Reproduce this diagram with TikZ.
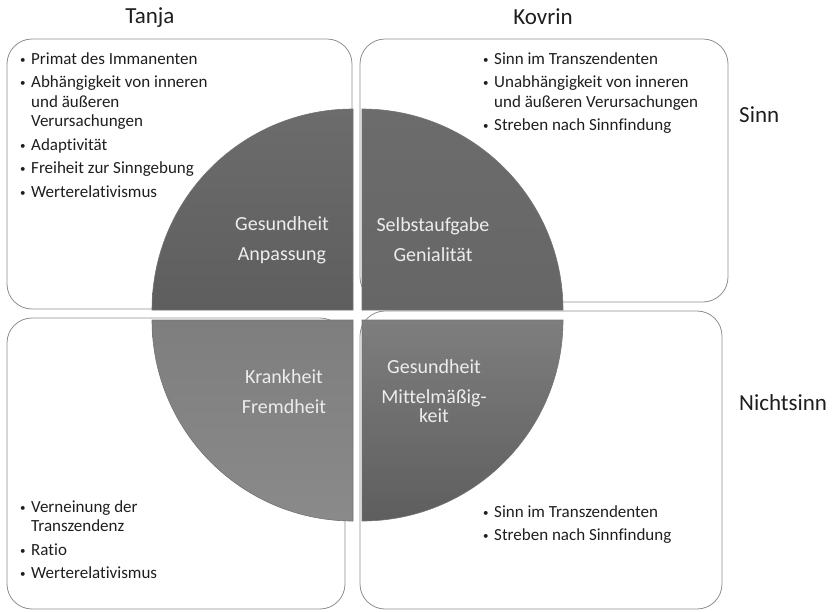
\documentclass[tikz,border=0pt]{standalone}
\usepackage{fontspec}
\setmainfont{Carlito}[Ligatures=NoCommon]
\usetikzlibrary{positioning}
\definecolor{ink}{HTML}{1E1E1E}
\definecolor{frame1}{HTML}{8E8E8E}
\definecolor{pietxt}{HTML}{EDEDED}
\definecolor{pieA}{HTML}{5E5E5E}
\definecolor{pieB}{HTML}{6C6C6C}
\definecolor{pieC}{HTML}{8A8A8A}
\definecolor{pieD}{HTML}{7E7E7E}
\newcommand{\bitem}[1]{\par\hangindent=11pt\hangafter=1\noindent\makebox[11pt][l]{\raisebox{1pt}{\fontsize{11}{11}\selectfont\textbullet}}#1\par\vspace{4pt}}

\begin{document}
\begin{tikzpicture}[x=1pt,y=-1pt,
  boxframe/.style={draw=frame1, line width=0.8pt, rounded corners=25pt},
  piece/.style={draw=black!55, line width=0.6pt},
  heading/.style={text=ink, font=\fontsize{23}{26}\selectfont, inner sep=0pt},
  pietext/.style={text=pietxt, align=center, font=\fontsize{20}{21}\selectfont, inner sep=0pt},
  bulletlist/.style={text=ink, anchor=base west, inner sep=0pt, font=\fontsize{17}{19.5}\selectfont}]
  \useasboundingbox (0,0) rectangle (840,611);
  % frames of the four fields
  \draw[boxframe] (7,39) rectangle (352,309);
  \draw[boxframe] (360,39) rectangle (728,302);
  \draw[boxframe] (7,318) rectangle (345,609);
  \draw[boxframe] (360,311) rectangle (722,609);
  % the four quarters of the circle
  \draw[piece, top color=pieB, bottom color=pieA] (353,310) -- (152,310) arc[start angle=180, end angle=90, radius=201pt] -- cycle;
  \draw[piece, top color=pieB, bottom color=pieA!95] (362,310) -- (362,109) arc[start angle=90, end angle=0, radius=201pt] -- cycle;
  \draw[piece, top color=pieD, bottom color=pieC] (353,320) -- (353,521) arc[start angle=270, end angle=180, radius=201pt] -- cycle;
  \draw[piece, top color=pieD, bottom color=pieA] (362,320) -- (563,320) arc[start angle=0, end angle=-90, radius=201pt] -- cycle;
  % headings
  \node[heading] (tanja) at (150,18) {Tanja};
  \node[heading] (kovrin) at (543,17) {Kovrin};
  \node[heading, anchor=west] (sinn) at (739,115) {Sinn};
  \node[heading, anchor=west] (nichtsinn) at (739,403) {Nichtsinn};
  % labels on the circle
  \node[pietext] (gesAnp) at (282,240) {Gesundheit\\[9pt]Anpassung};
  \node[pietext] (selbst) at (433,240) {Selbstaufgabe\\[9pt]Genialität};
  \node[pietext] (krank) at (284,392) {Krankheit\\[9pt]Fremdheit};
  \node[pietext] (gesMit) at (434,391) {Gesundheit\\[9pt]Mittelmäßig-\\[-2pt]keit};
  % lists
  \node[bulletlist] (listTL) at (20,64) {\parbox[t]{9cm}{\raggedright
    \bitem{Primat des Immanenten}
    \bitem{Abhängigkeit von inneren\newline und äußeren\newline Verursachungen}
    \bitem{Adaptivität}
    \bitem{Freiheit zur Sinngebung}
    \bitem{Werterelativismus}}};
  \node[bulletlist] (listTR) at (483,64) {\parbox[t]{9cm}{\raggedright
    \bitem{Sinn im Transzendenten}
    \bitem{Unabhängigkeit von inneren\newline und äußeren Verursachungen}
    \bitem{Streben nach Sinnfindung}}};
  \node[bulletlist] (listBL) at (20,512) {\parbox[t]{9cm}{\raggedright
    \bitem{Verneinung der\newline Transzendenz}
    \bitem{Ratio}
    \bitem{Werterelativismus}}};
  \node[bulletlist] (listBR) at (483,517) {\parbox[t]{9cm}{\raggedright
    \bitem{Sinn im Transzendenten}
    \bitem{Streben nach Sinnfindung}}};
\end{tikzpicture}
\end{document}
